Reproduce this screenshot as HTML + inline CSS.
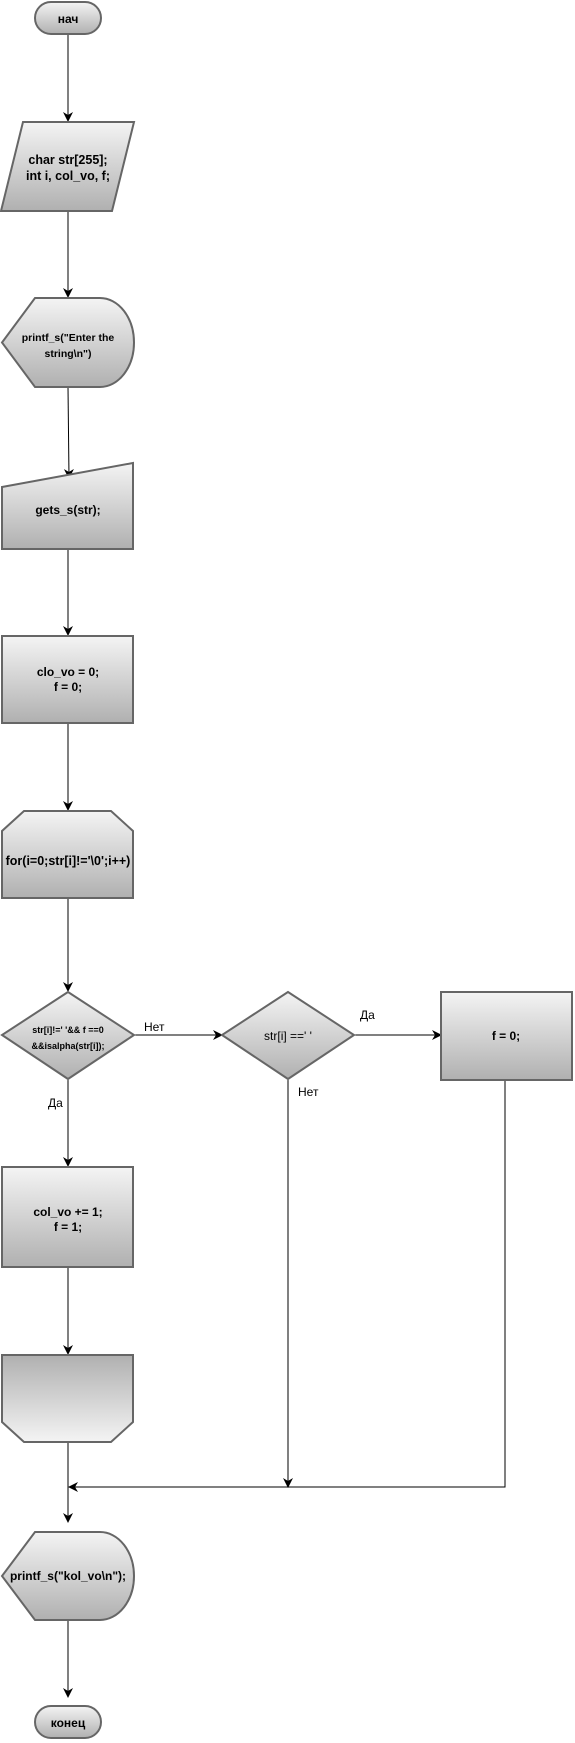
<!DOCTYPE html>
<html><head><meta charset="utf-8"><style>
html,body{margin:0;padding:0;background:#fff;}
svg{display:block;}
text{font-family:"Liberation Sans",Arial,sans-serif;}
</style></head><body>
<svg width="575" height="1743" viewBox="0 0 575 1743" xmlns="http://www.w3.org/2000/svg">
<defs>
<linearGradient id="g" x1="0" y1="0" x2="0" y2="1"><stop offset="0" stop-color="#f4f4f4"/><stop offset="1" stop-color="#b0b0b0"/></linearGradient>
<linearGradient id="gr" x1="0" y1="0" x2="0" y2="1"><stop offset="0" stop-color="#b0b0b0"/><stop offset="1" stop-color="#f4f4f4"/></linearGradient>
<marker id="a" markerWidth="10" markerHeight="10" refX="9" refY="5" orient="auto" markerUnits="userSpaceOnUse"><path d="M0,0 L10,5 L0,10 L3,5 z" fill="#000"/></marker>
</defs>
<g stroke="#000" stroke-width="1" fill="none">
<line x1="68" y1="34" x2="68" y2="121" marker-end="url(#a)"/>
<line x1="68" y1="211" x2="68" y2="297" marker-end="url(#a)"/>
<line x1="68" y1="387" x2="69" y2="478" marker-end="url(#a)"/>
<line x1="68" y1="549" x2="68" y2="635" marker-end="url(#a)"/>
<line x1="68" y1="723" x2="68" y2="810" marker-end="url(#a)"/>
<line x1="68" y1="898" x2="68" y2="991" marker-end="url(#a)"/>
<line x1="68" y1="1079" x2="68" y2="1166" marker-end="url(#a)"/>
<line x1="68" y1="1267" x2="68" y2="1354" marker-end="url(#a)"/>
<line x1="68" y1="1442" x2="68" y2="1522" marker-end="url(#a)"/>
<line x1="68" y1="1610" x2="68" y2="1697" marker-end="url(#a)"/>
<line x1="134" y1="1035" x2="222" y2="1035" marker-end="url(#a)"/>
<line x1="355" y1="1035" x2="441" y2="1035" marker-end="url(#a)"/>
<line x1="288" y1="1079" x2="288" y2="1487" marker-end="url(#a)"/>
<polyline points="505,1080 505,1487 69,1487" marker-end="url(#a)"/>
</g>
<g fill="url(#g)" stroke="#666" stroke-width="2">
<rect x="35" y="2" width="66" height="32" rx="16"/>
<polygon points="23,122 134,122 112,211 1,211"/>
<path d="M35,298 L100,298 A34,44.5 0 0 1 100,387 L35,387 L2,342.5 Z"/>
<polygon points="2,487 133,463 133,549 2,549"/>
<rect x="2" y="636" width="131" height="87"/>
<polygon points="24,811 111,811 133,831 133,898 2,898 2,831"/>
<polygon points="68,992 134,1035 68,1079 2,1035"/>
<polygon points="288,992 354,1035 288,1079 222,1035"/>
<rect x="441" y="992" width="131" height="88"/>
<rect x="2" y="1167" width="131" height="100"/>
<polygon points="2,1355 133,1355 133,1422 111,1442 24,1442 2,1422" fill="url(#gr)"/>
<path d="M35,1532 L100,1532 A34,44 0 0 1 100,1620 L35,1620 L2,1576 Z"/>
<rect x="35" y="1706" width="66" height="32" rx="16"/>
</g>
<g font-size="12" font-weight="bold" text-anchor="middle" fill="#000">
<text x="68" y="23">нач</text>
<text x="68" y="164" font-size="12.5">char str[255];</text>
<text x="68" y="180" font-size="12.5">int i, col_vo, f;</text>
<text x="68" y="341" font-size="10.5">printf_s("Enter the</text>
<text x="68" y="357" font-size="10.5">string\n")</text>
<text x="68" y="514">gets_s(str);</text>
<text x="68" y="676">clo_vo = 0;</text>
<text x="68" y="691">f = 0;</text>
<text x="68" y="865" font-size="12.5">for(i=0;str[i]!='\0';i++)</text>
<text x="68" y="1033" font-size="9">str[i]!=' '&amp;&amp; f ==0</text>
<text x="68" y="1049" font-size="9">&amp;&amp;isalpha(str[i]);</text>
<text x="288" y="1040" font-weight="normal">str[i] ==' '</text>
<text x="506" y="1040">f = 0;</text>
<text x="68" y="1216">col_vo += 1;</text>
<text x="68" y="1231">f = 1;</text>
<text x="68" y="1580">printf_s("kol_vo\n");</text>
<text x="68" y="1727">конец</text>
</g>
<g font-size="12" fill="#000">
<text x="144" y="1031">Нет</text>
<text x="360" y="1019">Да</text>
<text x="298" y="1096">Нет</text>
<text x="48" y="1107">Да</text>
</g>
</svg>
</body></html>
